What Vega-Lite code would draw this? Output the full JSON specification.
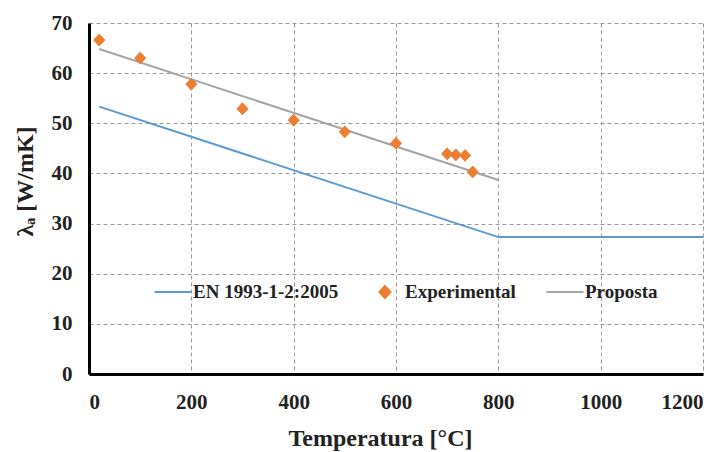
{
  "$schema": "https://vega.github.io/schema/vega-lite/v6.json",
  "width": 614,
  "height": 351,
  "autosize": {"type": "none"},
  "padding": {"left": 89, "top": 23, "right": 24, "bottom": 78},
  "background": "white",
  "config": {
    "view": {"stroke": null},
    "font": "Liberation Serif",
    "axis": {
      "domainColor": "black",
      "domainWidth": 3,
      "ticks": false,
      "gridColor": "#9a9a9a",
      "gridDash": [4, 3],
      "gridWidth": 1,
      "labelFont": "Liberation Serif",
      "labelFontWeight": "bold",
      "labelFontSize": 21,
      "labelColor": "#222222",
      "titleFont": "Liberation Serif",
      "titleFontWeight": "bold",
      "titleFontSize": 24,
      "titleColor": "#222222"
    }
  },
  "data": {
    "values": [
      {"series": "EN 1993-1-2:2005", "T": 20, "lambda": 53.33},
      {"series": "EN 1993-1-2:2005", "T": 800, "lambda": 27.3},
      {"series": "EN 1993-1-2:2005", "T": 1200, "lambda": 27.3},
      {"series": "Proposta", "T": 20, "lambda": 64.8},
      {"series": "Proposta", "T": 800, "lambda": 38.7},
      {"series": "Experimental", "T": 20, "lambda": 66.6},
      {"series": "Experimental", "T": 100, "lambda": 63.0},
      {"series": "Experimental", "T": 200, "lambda": 57.8},
      {"series": "Experimental", "T": 300, "lambda": 52.9},
      {"series": "Experimental", "T": 400, "lambda": 50.6},
      {"series": "Experimental", "T": 500, "lambda": 48.3},
      {"series": "Experimental", "T": 600, "lambda": 46.0},
      {"series": "Experimental", "T": 700, "lambda": 43.9},
      {"series": "Experimental", "T": 717, "lambda": 43.7},
      {"series": "Experimental", "T": 735, "lambda": 43.6},
      {"series": "Experimental", "T": 750, "lambda": 40.3}
    ]
  },
  "encoding": {
    "x": {
      "field": "T",
      "type": "quantitative",
      "scale": {"domain": [0, 1200], "nice": false},
      "axis": {"values": [0, 200, 400, 600, 800, 1000, 1200], "format": "d", "title": "Temperatura [°C]", "labelPadding": 17, "titleX": 291, "titleY": 64, "titleBaseline": "middle"}
    },
    "y": {
      "field": "lambda",
      "type": "quantitative",
      "scale": {"domain": [0, 70], "nice": false},
      "axis": {"values": [0, 10, 20, 30, 40, 50, 60, 70], "format": "d", "title": "λₐ [W/mK]", "labelPadding": 17, "titleX": -64, "titleY": 158, "titleBaseline": "middle"}
    }
  },
  "layer": [
    {
      "transform": [{"filter": "datum.series !== 'Experimental'"}],
      "mark": {"type": "line", "strokeWidth": 2},
      "encoding": {
        "stroke": {
          "field": "series",
          "type": "nominal",
          "scale": {"domain": ["EN 1993-1-2:2005", "Experimental", "Proposta"], "range": ["#5b9bd5", "#ed7d31", "#a5a5a5"]},
          "legend": {
            "title": null,
            "orient": "none",
            "legendX": 64,
            "legendY": 249,
            "direction": "horizontal",
            "labelFont": "Liberation Serif",
            "labelFontWeight": "bold",
            "labelFontSize": 19,
            "labelColor": "#222222",
            "symbolStrokeWidth": 2,
            "symbolSize": 1370,
            "columnPadding": 26,
            "labelOffset": 0
          }
        }
      }
    },
    {
      "transform": [{"filter": "datum.series === 'Experimental'"}],
      "mark": {"type": "point", "filled": true, "opacity": 1, "strokeWidth": 1, "size": 1370},
      "encoding": {
        "fill": {
          "field": "series",
          "type": "nominal",
          "scale": {"domain": ["EN 1993-1-2:2005", "Experimental", "Proposta"], "range": ["#5b9bd5", "#ed7d31", "#a5a5a5"]},
          "legend": null
        },
        "stroke": {"field": "series", "type": "nominal"},
        "shape": {
          "field": "series",
          "type": "nominal",
          "scale": {"domain": ["EN 1993-1-2:2005", "Experimental", "Proposta"], "range": ["stroke", "M0,-0.32L0.3,0L0,0.32L-0.3,0Z", "stroke"]},
          "legend": null
        }
      }
    }
  ]
}
